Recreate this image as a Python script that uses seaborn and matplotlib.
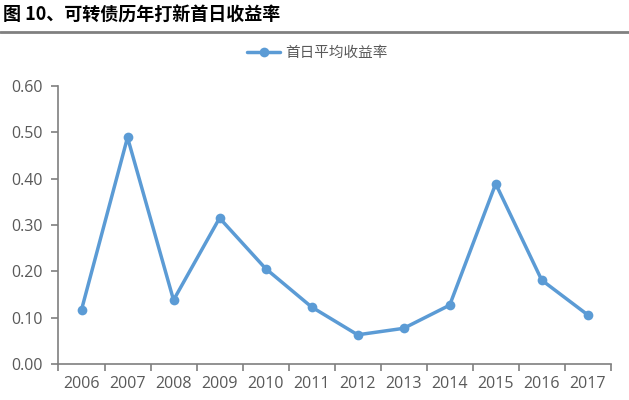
import matplotlib
matplotlib.use("Agg")
import matplotlib.pyplot as plt
import pandas as pd
import seaborn as sns
from matplotlib.lines import Line2D
from matplotlib.ticker import FixedLocator, NullFormatter

YEARS = ["2006", "2007", "2008", "2009", "2010", "2011",
         "2012", "2013", "2014", "2015", "2016", "2017"]
FIRST_DAY_RETURN = [0.117, 0.489, 0.138, 0.315, 0.206, 0.123,
                    0.063, 0.077, 0.127, 0.389, 0.181, 0.106]
Y_TICKS = [0.0, 0.1, 0.2, 0.3, 0.4, 0.5, 0.6]
TITLE = "图 10、可转债历年打新首日收益率"
SERIES_NAME = "首日平均收益率"

LINE_COLOR = "#5B9BD5"
TEXT_COLOR = "#595959"
AXIS_COLOR = "#7F7F7F"

sns.set_theme(style="white")
plt.rcParams["font.family"] = ["Noto Sans CJK SC", "DejaVu Sans"]

df = pd.DataFrame({"year": YEARS, "value": FIRST_DAY_RETURN})

fig = plt.figure(figsize=(6.29, 4.0), dpi=100)
ax = fig.add_axes([0.093, 0.09, 0.878, 0.695])

sns.lineplot(data=df, x="year", y="value", ax=ax, color=LINE_COLOR,
             linewidth=2.5, marker="o", markersize=7, markeredgewidth=0,
             sort=False)

ax.set_xlim(-0.5, len(YEARS) - 0.5)
ax.set_ylim(0, 0.6)
ax.set_yticks(Y_TICKS)
ax.set_yticklabels([f"{v:.2f}" for v in Y_TICKS])
ax.set_xticks(range(len(YEARS)))
ax.set_xticklabels(YEARS)
ax.xaxis.set_minor_locator(FixedLocator([i - 0.5 for i in range(len(YEARS) + 1)]))
ax.xaxis.set_minor_formatter(NullFormatter())
ax.tick_params(axis="x", which="major", length=0, pad=9, labelsize=11.5,
               labelcolor=TEXT_COLOR)
ax.tick_params(axis="x", which="minor", length=5, width=1.2, color=AXIS_COLOR,
               direction="out", bottom=True)
ax.tick_params(axis="y", which="major", length=5, width=1.2, color=AXIS_COLOR,
               direction="out", left=True, pad=6, labelsize=11.5,
               labelcolor=TEXT_COLOR)
for label in ax.get_xticklabels() + ax.get_yticklabels():
    label.set_fontfamily(["Open Sans", "DejaVu Sans"])
ax.set_xlabel("")
ax.set_ylabel("")
for side in ("top", "right"):
    ax.spines[side].set_visible(False)
for side in ("left", "bottom"):
    ax.spines[side].set_color(AXIS_COLOR)
    ax.spines[side].set_linewidth(1.2)

handle = Line2D([], [], color=LINE_COLOR, linewidth=2.5, marker="o",
                markersize=7, markeredgewidth=0)
fig.legend([handle], [SERIES_NAME], loc="center", bbox_to_anchor=(0.505, 0.867),
           frameon=False, fontsize=10.5, labelcolor=TEXT_COLOR,
           handlelength=2.2, handletextpad=0.4)

fig.text(0.005, 0.962, TITLE, fontsize=13, fontweight="bold", color="black",
         ha="left", va="center")
fig.add_artist(Line2D([0, 1], [0.92, 0.92], transform=fig.transFigure,
                      color="#808080", linewidth=2))

fig.savefig("out.png", dpi=100)
